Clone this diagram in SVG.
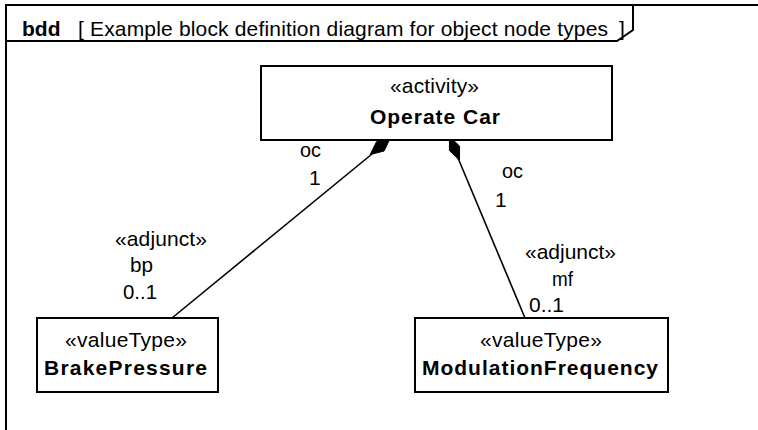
<svg xmlns="http://www.w3.org/2000/svg" width="758" height="430" viewBox="0 0 758 430">
<style>
text{font-family:"Liberation Sans",Arial,sans-serif;font-size:21px;fill:#000}
.b{font-weight:bold}
.box{fill:#fff;stroke:#000;stroke-width:2}
.frame{fill:none;stroke:#000;stroke-width:2}
.conn{fill:none;stroke:#000;stroke-width:1.6}
.dia{fill:#000;stroke:#000;stroke-width:1}
</style>
<rect width="758" height="430" fill="#fff"/>
<g id="frame">
<path class="frame" d="M6,430 V5 H758"/>
<path class="frame" d="M6,41 H617 L633,30 V5"/>
<text class="b" x="22" y="36">bdd</text>
<text x="78" y="36">[</text>
<text x="90" y="36" textLength="518" lengthAdjust="spacing">Example block definition diagram for object node types</text>
<text x="619" y="36">]</text>
</g>
<g id="connectors">
<line class="conn" x1="172" y1="318" x2="372" y2="154"/>
<polygon class="dia" points="390.3,138.1 384.1,151 370.2,154.6 376.5,141.8"/>
<line class="conn" x1="525" y1="318" x2="458" y2="158"/>
<polygon class="dia" points="449.5,136.3 459.6,146.2 459.5,160.3 449.4,150.4"/>
<text x="300" y="157" textLength="21" lengthAdjust="spacingAndGlyphs">oc</text>
<text x="309" y="185">1</text>
<text x="115" y="246" textLength="92" lengthAdjust="spacing">«adjunct»</text>
<text x="130" y="272" textLength="23" lengthAdjust="spacingAndGlyphs">bp</text>
<text x="123" y="299" textLength="34" lengthAdjust="spacingAndGlyphs">0..1</text>
<text x="502" y="178" textLength="21" lengthAdjust="spacingAndGlyphs">oc</text>
<text x="495" y="207">1</text>
<text x="525" y="259" textLength="91" lengthAdjust="spacing">«adjunct»</text>
<text x="552" y="286" textLength="21" lengthAdjust="spacingAndGlyphs">mf</text>
<text x="529" y="312" textLength="35" lengthAdjust="spacingAndGlyphs">0..1</text>
</g>
<g id="operate-car">
<rect class="box" x="261" y="66" width="351" height="74"/>
<text x="390" y="93" textLength="89" lengthAdjust="spacing">«activity»</text>
<text class="b" x="370" y="124" textLength="130" lengthAdjust="spacing">Operate Car</text>
</g>
<g id="brake-pressure">
<rect class="box" x="37" y="318" width="181" height="74"/>
<text x="65" y="347" textLength="122" lengthAdjust="spacing">«valueType»</text>
<text class="b" x="44" y="375" textLength="163" lengthAdjust="spacing">BrakePressure</text>
</g>
<g id="modulation-frequency">
<rect class="box" x="415" y="318" width="253" height="74"/>
<text x="480" y="347" textLength="122" lengthAdjust="spacing">«valueType»</text>
<text class="b" x="422" y="375" textLength="236" lengthAdjust="spacing">ModulationFrequency</text>
</g>
</svg>
